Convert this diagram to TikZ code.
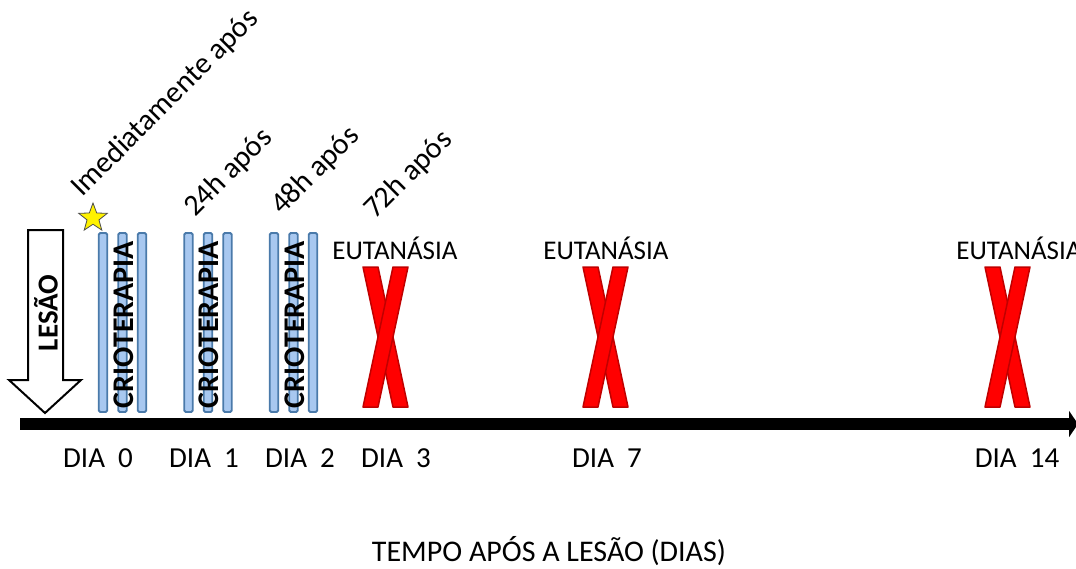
\documentclass[tikz,border=0pt]{standalone}
\usepackage{fontspec}
\setmainfont{Carlito}
\usetikzlibrary{calc}
\usetikzlibrary{positioning}
\usetikzlibrary{shapes.geometric}
\usetikzlibrary{arrows.meta}
\definecolor{barfill}{RGB}{168,200,240}
\definecolor{barline}{RGB}{74,122,170}
\definecolor{crossline}{RGB}{192,0,0}
% one red cross at x position #1
\newcommand*\crossmark[1]{%
    \filldraw[cross] (#1-22,267) -- (#1-7,267) -- (#1+23,407) -- (#1+8,407) -- cycle;% left bar
    \filldraw[cross] (#1+8,267) -- (#1+23,267) -- (#1-7,407) -- (#1-22,407) -- cycle;% right bar
}

\begin{document}
\begin{tikzpicture}
    [%
        x=1pt,y=-1pt,%
        bar/.style={%
            draw=barline,%
            fill=barfill,%
            line width=1.8pt,%
            rounded corners=1.5pt,%
            minimum width=8.5pt,%
            minimum height=179pt,%
            inner sep=0pt%
        },%
        therapy/.style={%
            rotate=90,%
            font=\fontsize{30}{32}\selectfont\bfseries,%
            inner sep=0pt%
        },%
        cross/.style={%
            fill=red,%
            draw=crossline,%
            line width=1.5pt,%
            line join=round%
        },%
        slanted/.style={%
            rotate=45,%
            anchor=base west,%
            inner sep=0pt,%
            font=\fontsize{30}{32}\selectfont%
        },%
        daylabel/.style={%
            font=\fontsize{29}{32}\selectfont,%
            inner sep=0pt%
        },%
        endlabel/.style={%
            font=\fontsize{27}{30}\selectfont,%
            inner sep=0pt%
        }%
    ]%
%
    \useasboundingbox (0,0) rectangle (1076,568);
%
    % time axis
    \draw[line width=12pt,-{Triangle[length=9pt,width=26pt]}] (20,424) coordinate (axis-start) -- (1078,424) coordinate (axis-end);
%
    % injury arrow
    \draw[fill=white,line width=2pt,line join=miter]
        (28,230) -- (63,230) -- (63,380) -- (81,380) -- (45,413) -- (9,380) -- (28,380) -- cycle;
    \node[rotate=90,inner sep=0pt,font=\fontsize{29}{32}\selectfont\bfseries] (lesao) at (46,313) {LESÃO};
%
    % cryotherapy sessions
    % \day session day
    % \x centre of the first bar
    \foreach \day/\x in {0/103,1/188.5,2/274} {
        \foreach \i in {0,1,2} {
            \node[bar] (bar\day-\i) at (\x+19.5*\i,322.5) {};
        } % \foreach \i
        \node[therapy] (crio\day) at ($(bar\day-1)+(1,2)$) {CRIOTERAPIA};
    } % \foreach \day/\x
%
    \node[star,star points=5,star point ratio=2.4,draw=black!70,fill=yellow,line width=0.8pt,
          minimum size=30pt,inner sep=0pt] (star) at (93,218) {};
%
    % times after the injury
    \node[slanted] (imediato) at (82,198) {Imediatamente após};
    \node[slanted] (apos24) at (195,218) {24h após};
    \node[slanted] (apos48) at (282,216) {48h após};
    \node[slanted] (apos72) at (375,220) {72h após};
%
    % euthanasia
    % \x cross centre, \lx label centre
    \foreach \x/\lx [count=\k] in {385/395,605/606,1007/1019} {
        \crossmark{\x}
        \node[endlabel] (eutanasia\k) at (\lx,248) {EUTANÁSIA};
    } % \foreach \x/\lx
%
    % days on the axis
    \foreach \d/\x in {0/98,1/204,2/300,3/396,7/607,14/1017} {
        \node[daylabel] (dia\d) at (\x,458) {DIA\ \ \d};
    } % \foreach \d/\x
%
    \node[font=\fontsize{30}{32}\selectfont,inner sep=0pt] (tempo) at (549,551) {TEMPO APÓS A LESÃO (DIAS)};
\end{tikzpicture}
\end{document}
